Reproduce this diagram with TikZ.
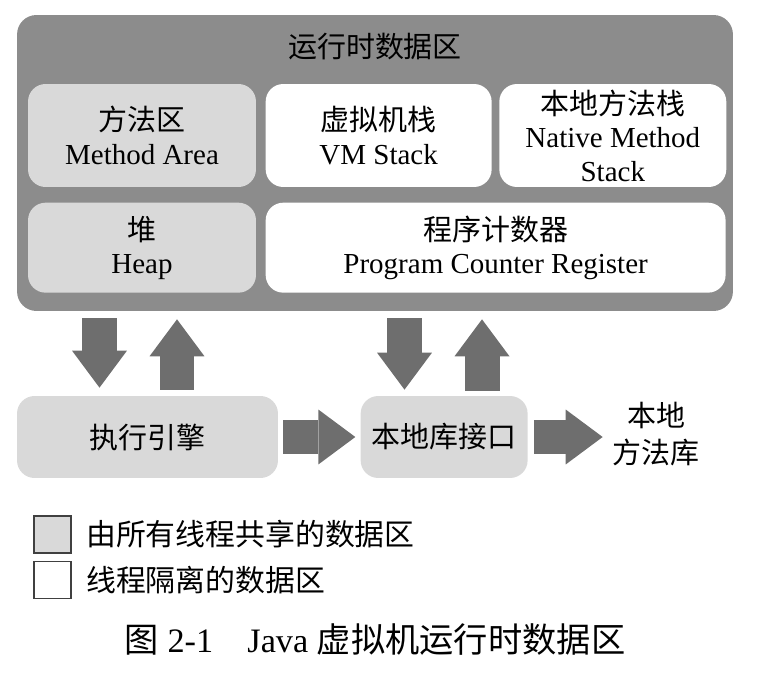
\documentclass[tikz,border=0pt]{standalone}
\usepackage{fontspec}
\setmainfont{Liberation Serif}
\newfontfamily\cjk{Noto Sans CJK SC}
\usepackage{tikz}
\usetikzlibrary{arrows.meta,positioning}
\definecolor{rdagray}{gray}{0.55}
\definecolor{sharedgray}{gray}{0.85}
\definecolor{arrowgray}{gray}{0.43}

\begin{document}
\begin{tikzpicture}[
  x=0.02cm, y=-0.02cm,
  txt/.style={font=\fontsize{16.5}{19}\selectfont, align=center},
  box/.style={txt, rounded corners=10pt, inner sep=0pt},
  shared/.style={box, fill=sharedgray},
  private/.style={box, fill=white},
  blk/.style={-{Triangle[length=0.74cm, width=1.1cm, line width=0pt]}, line width=0.7cm, arrowgray},
  legbox/.style={draw=black!75, line width=0.9pt, minimum size=0.74cm, inner sep=0pt},
  legtxt/.style={font=\fontsize{17}{20}\selectfont\cjk, inner sep=0pt},
]
\useasboundingbox (0,0) rectangle (771,682);

% --- Runtime data area ---
\node[box, fill=rdagray, rounded corners=11pt, minimum width=14.32cm, minimum height=5.92cm] (rda) at (375,163) {};
\node[txt] (rdatitle) at (375,47) {\cjk 运行时数据区};

% --- First row ---
\node[shared, minimum width=4.56cm, minimum height=2.06cm] (method) at (142,135.5) {{\cjk 方法区}\\Method Area};
\node[private, minimum width=4.52cm, minimum height=2.06cm, right=0.18cm of method] (vmstack) {{\cjk 虚拟机栈}\\VM Stack};
\node[private, minimum width=4.54cm, minimum height=2.06cm, right=0.14cm of vmstack] (nmstack) {{\cjk 本地方法栈}\\Native Method\\Stack};

% --- Second row ---
\node[shared, minimum width=4.56cm, minimum height=1.8cm, below=0.3cm of method] (heap) {{\cjk 堆}\\Heap};
\node[private, minimum width=9.2cm, minimum height=1.8cm, right=0.18cm of heap] (pcr) {{\cjk 程序计数器}\\Program Counter Register};

% --- Engine and native interface ---
\node[shared, minimum width=5.22cm, minimum height=1.64cm] (engine) at (147.5,437) {\cjk 执行引擎};
\node[shared, minimum width=3.34cm, minimum height=1.64cm, right=1.64cm of engine] (jni) {\cjk 本地库接口};
\node[txt, font=\fontsize{16.5}{21}\selectfont\cjk, inner sep=0.1cm] (natlib) at (656,434) {本地\\方法库};

% --- Block arrows ---
\coordinate (down1) at (99.5,0);
\coordinate (up1) at (177,0);
\coordinate (down2) at (404.5,0);
\coordinate (up2) at (482,0);
\draw[blk, shorten <=0.14cm, shorten >=0.16cm] (down1 |- rda.south) -- (down1 |- engine.north);
\draw[blk, shorten <=0.12cm, shorten >=0.16cm] (up1 |- engine.north) -- (up1 |- rda.south);
\draw[blk, shorten <=0.14cm, shorten >=0.12cm] (down2 |- rda.south) -- (down2 |- jni.north);
\draw[blk, shorten <=0.1cm, shorten >=0.16cm] (up2 |- jni.north) -- (up2 |- rda.south);
\draw[blk, shorten <=0.1cm, shorten >=0.1cm] (engine.east) -- (jni.west);
\draw[blk, shorten <=0.12cm, shorten >=0.09cm] (jni.east) -- (jni.east -| natlib.west);

% --- Legend ---
\node[legbox, fill=sharedgray] (legshared) at (52.5,534.5) {};
\node[legbox, fill=white, below=0.14cm of legshared] (legprivate) {};
\node[legtxt, right=0.28cm of legshared] (legsharedtxt) {由所有线程共享的数据区};
\node[legtxt, right=0.28cm of legprivate] (legprivatetxt) {线程隔离的数据区};

% --- Caption ---
\node[font=\fontsize{19.5}{22}\selectfont] (caption) at (375,640) {{\cjk 图} 2-1\quad Java {\cjk 虚拟机运行时数据区}};
\end{tikzpicture}
\end{document}
